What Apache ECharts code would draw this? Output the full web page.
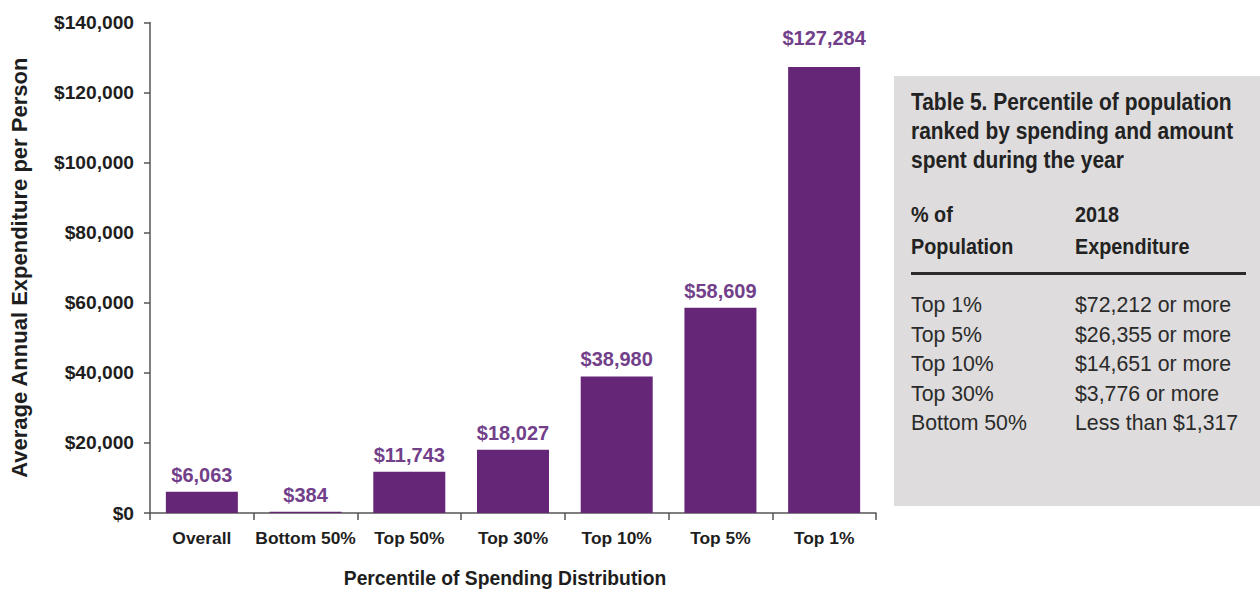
<!DOCTYPE html>
<html>
<head>
<meta charset="utf-8">
<script src="https://cdn.jsdelivr.net/npm/echarts@6/dist/echarts.min.js"></script>
<style>
  html, body { margin: 0; padding: 0; background: #ffffff; }
  #wrap { position: relative; width: 1260px; height: 593px; overflow: hidden; }
  #chart { position: absolute; left: 0; top: 0; width: 1260px; height: 593px; }
  #tableBox {
    position: absolute; left: 894px; top: 76px; width: 366px; height: 430px;
    background: #dedcdc;
  }
  .tl { position: absolute; white-space: nowrap; color: #2a2a2a;
        font-family: "Liberation Sans", Arial, sans-serif;
        transform-origin: 0 50%; }
  .tb { font-weight: bold; color: #222222; }
  .rule { position: absolute; background: #2b2b2b; height: 3px; }
</style>
</head>
<body>
<div id="wrap">
  <div id="tableBox"></div>
  <div id="chart"></div>
</div>
<script>
// Spending categories and average annual expenditure per person
const categories = ['Overall', 'Bottom 50%', 'Top 50%', 'Top 30%', 'Top 10%', 'Top 5%', 'Top 1%'];
const spending = [6063, 384, 11743, 18027, 38980, 58609, 127284];

// Value axis range
const yMin = 0;
const yMax = 140000;
const yStep = 20000;

// Side table: percentile thresholds
const tableTitle = ['Table 5. Percentile of population', 'ranked by spending and amount', 'spent during the year'];
const headerPopulation = ['% of', 'Population'];
const headerExpenditure = ['2018', 'Expenditure'];
const populationGroups = ['Top 1%', 'Top 5%', 'Top 10%', 'Top 30%', 'Bottom 50%'];
const expenditureThresholds = ['$72,212 or more', '$26,355 or more', '$14,651 or more', '$3,776 or more', 'Less than $1,317'];

const FONT = '"Liberation Sans", Arial, sans-serif';
const BAR_COLOR = '#652678';
const LABEL_COLOR = '#72408a';

function money(v) {
  return '$' + Math.round(v).toString().replace(/\B(?=(\d{3})+(?!\d))/g, ',');
}

// ---- side table (HTML, narrowed type) ----
const box = document.getElementById('wrap');
function addLine(text, left, centerY, size, bold, squeeze) {
  const lh = 28;
  const d = document.createElement('div');
  d.className = 'tl' + (bold ? ' tb' : '');
  d.textContent = text;
  d.style.left = left + 'px';
  d.style.fontSize = size + 'px';
  d.style.lineHeight = lh + 'px';
  d.style.top = (centerY - lh / 2) + 'px';
  d.style.transform = 'scaleX(' + squeeze + ')';
  box.appendChild(d);
}
const col1 = 911, col2 = 1075;
const titleY = [102, 131, 160];
tableTitle.forEach((t, i) => addLine(t, col1, titleY[i], 23, true, 0.91));
const headY = [215, 247];
headerPopulation.forEach((t, i) => addLine(t, col1, headY[i], 22.5, true, 0.88));
headerExpenditure.forEach((t, i) => addLine(t, col2, headY[i], 22.5, true, 0.88));
const rule = document.createElement('div');
rule.className = 'rule';
rule.style.left = col1 + 'px';
rule.style.top = '272px';
rule.style.width = (1246 - col1) + 'px';
box.appendChild(rule);
populationGroups.forEach((t, i) => {
  const y = 305 + i * 29.5;
  addLine(t, col1, y, 22.5, false, 0.945);
  addLine(expenditureThresholds[i], col2, y, 22.5, false, 0.945);
});

// ---- bar chart ----
const chart = echarts.init(document.getElementById('chart'), null, { renderer: 'svg' });

const barData = spending.map((v, i) =>
  i === spending.length - 1 ? { value: v, label: { distance: 19 } } : v
);

chart.setOption({
  animation: false,
  backgroundColor: 'transparent',
  grid: { left: 148, right: 384, top: 22.5, bottom: 78, containLabel: false },
  xAxis: {
    type: 'category',
    data: categories,
    boundaryGap: true,
    axisLine: { show: true, lineStyle: { color: '#555555', width: 1.5 } },
    axisTick: { show: true, alignWithLabel: false, interval: 0, length: 7, lineStyle: { color: '#555555', width: 1.5 } },
    axisLabel: { interval: 0, color: '#1e1e1e', fontFamily: FONT, fontWeight: 'bold', fontSize: 17.4, margin: 16 },
    name: 'Percentile of Spending Distribution',
    nameLocation: 'middle',
    nameGap: 56,
    nameTextStyle: { color: '#1e1e1e', fontFamily: FONT, fontWeight: 'bold', fontSize: 19.3, padding: [0, 16, 0, 0] }
  },
  yAxis: {
    type: 'value',
    min: yMin,
    max: yMax,
    interval: yStep,
    splitLine: { show: false },
    axisLine: { show: true, lineStyle: { color: '#555555', width: 1.5 } },
    axisTick: { show: true, inside: false, length: 6, lineStyle: { color: '#555555', width: 1.5 } },
    axisLabel: { color: '#1e1e1e', fontFamily: FONT, fontWeight: 'bold', fontSize: 19.2, margin: 16, formatter: money },
    name: 'Average Annual Expenditure per Person',
    nameLocation: 'middle',
    nameRotate: 90,
    nameGap: 120,
    nameTextStyle: { color: '#1e1e1e', fontFamily: FONT, fontWeight: 'bold', fontSize: 22 }
  },
  series: [{
    type: 'bar',
    data: barData,
    barWidth: 72,
    itemStyle: { color: BAR_COLOR },
    label: {
      show: true,
      position: 'top',
      distance: 7,
      color: LABEL_COLOR,
      fontFamily: FONT,
      fontWeight: 'bold',
      fontSize: 20,
      formatter: p => money(p.value)
    }
  }]
});
</script>
</body>
</html>
